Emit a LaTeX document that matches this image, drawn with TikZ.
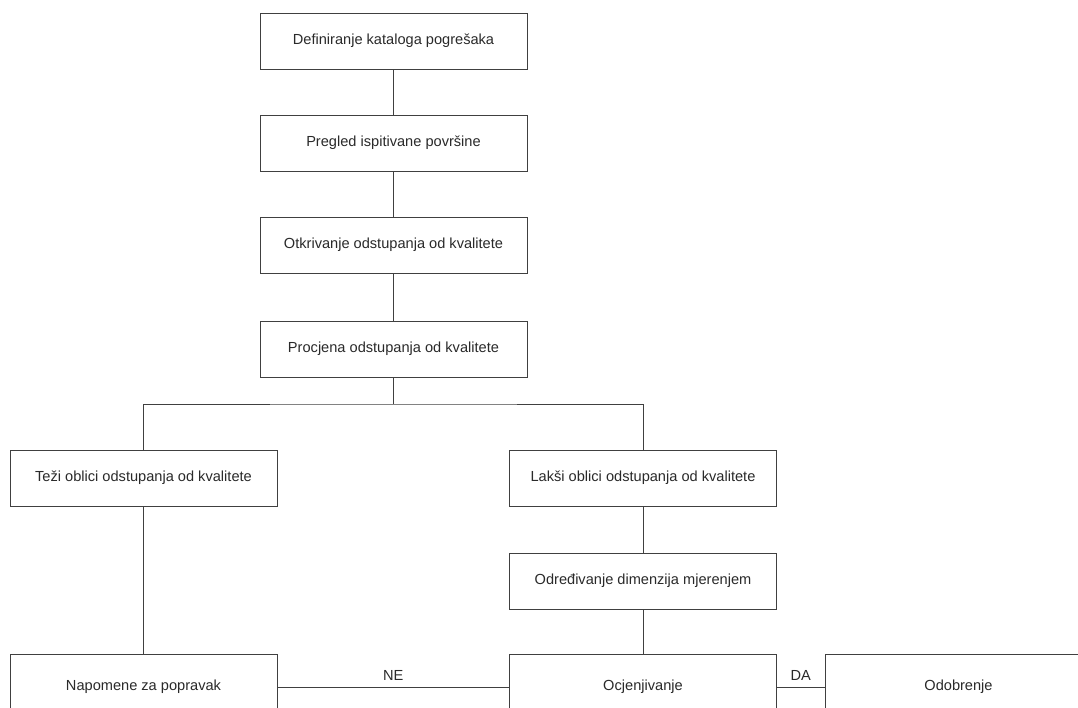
\documentclass[tikz,border=0pt]{standalone}
\usepackage{fontspec}
\setmainfont{Liberation Sans}
\usetikzlibrary{positioning}
\definecolor{boxline}{HTML}{404040}
\definecolor{boxtext}{HTML}{2A2A2A}
\tikzset
    { stepbox/.style = 
        { draw = boxline, line width = 0.9pt, fill = white
        , minimum width = 267, minimum height = 56
        , text = boxtext, font = \fontsize{14.6}{16}\selectfont
        , inner sep = 0pt
        }
    , lowbox/.style = {stepbox, minimum height = 66}
    , link/.style = {draw = boxline, line width = 0.9pt}
    , answer/.style = {text = boxtext, font = \fontsize{14.6}{16}\selectfont}
    }

\begin{document}
\begin{tikzpicture}[x=1pt, y=-1pt]

            \clip (0, 0) rectangle (1078, 708);
            \fill[white] (0, 0) rectangle (1078, 708);

            % upper chain
            \node[stepbox] (katalog) at (393.5, 41) {Definiranje kataloga pogrešaka};
            \node[stepbox] (pregled) at (393.5, 143) {Pregled ispitivane površine};
            \node[stepbox] (otkrivanje) at (393.5, 245) {Otkrivanje odstupanja od kvalitete};
            \node[stepbox] (procjena) at (393.5, 349) {Procjena odstupanja od kvalitete};

            % two branches
            \node[stepbox] (tezi) at (143.5, 478) {Teži oblici odstupanja od kvalitete};
            \node[stepbox] (laksi) at (643, 478) {Lakši oblici odstupanja od kvalitete};
            \node[stepbox] (dimenzije) at (643, 581) {Određivanje dimenzija mjerenjem};

            % bottom row
            \node[lowbox] (napomene) at (143.5, 687) {Napomene za popravak};
            \node[lowbox] (ocjena) at (643, 687) {Ocjenjivanje};
            \node[lowbox] (odobrenje) at (958.5, 687) {Odobrenje};

            \draw[link] (katalog) -- (pregled);
            \draw[link] (pregled) -- (otkrivanje);
            \draw[link] (otkrivanje) -- (procjena);
            \draw[link] (procjena.south) -- (procjena.south |- 0, 404) coordinate (split);
            \draw[link] (tezi.north) |- (split) -| (laksi.north);
            \draw[link] (laksi) -- (dimenzije);
            \draw[link] (dimenzije) -- (ocjena);
            \draw[link] (tezi) -- (napomene);

            \draw[link] (napomene) -- node[answer, above=3pt] {NE} (ocjena);
            \draw[link] (ocjena) -- node[answer, above=3pt] {DA} (odobrenje);

        \end{tikzpicture}
\end{document}
